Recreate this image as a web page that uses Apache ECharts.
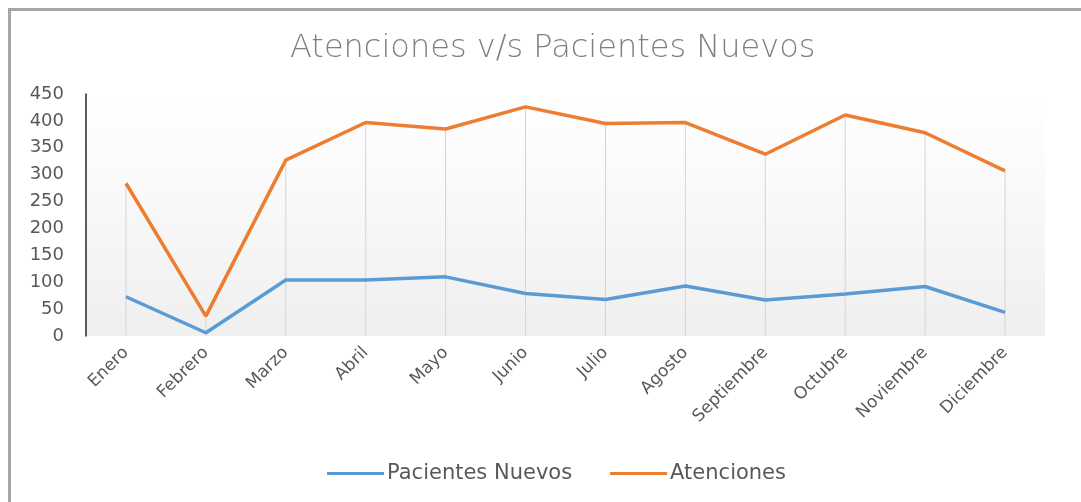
<!DOCTYPE html>
<html>
<head>
<meta charset="utf-8">
<title>Atenciones v/s Pacientes Nuevos</title>
<script src="https://cdn.jsdelivr.net/npm/echarts@6/dist/echarts.min.js"></script>
<style>
  html, body { margin: 0; padding: 0; background: #fff; }
  #chart { width: 1081px; height: 502px; }
</style>
</head>
<body>
<div id="chart"></div>
<script>
// datos
var meses = ['Enero', 'Febrero', 'Marzo', 'Abril', 'Mayo', 'Junio', 'Julio',
  'Agosto', 'Septiembre', 'Octubre', 'Noviembre', 'Diciembre'];
var pacientesNuevos = [73, 6, 104, 104, 110, 79, 68, 93, 67, 78, 92, 44];
var atenciones = [284, 37, 327, 397, 385, 426, 395, 397, 338, 411, 378, 307];
var yTicks = [0, 50, 100, 150, 200, 250, 300, 350, 400, 450];

var colors = ['#5B9BD5', '#ED7D31'];
var textColor = '#595959';
var font = 'DejaVu Sans';

var chartDom = document.getElementById('chart');
var myChart = echarts.init(chartDom);
var option = {
  color: colors,
  animation: false,
  textStyle: { fontFamily: font },
  title: {
    text: 'Atenciones v/s Pacientes Nuevos',
    left: 285,
    top: 28,
    textStyle: {
      color: '#7f7f7f',
      fontFamily: font,
      fontWeight: 'lighter',
      fontSize: 32
    }
  },
  // marco gris (arriba e izquierda)
  graphic: [{
    type: 'rect',
    left: 8,
    top: 8,
    shape: { width: 1100, height: 520 },
    style: { fill: 'transparent', stroke: '#a6a6a6', lineWidth: 3 },
    silent: true
  }],
  legend: {
    bottom: 13,
    left: 322,
    data: ['Pacientes Nuevos', 'Atenciones'],
    icon: 'rect',
    itemWidth: 57,
    itemHeight: 3,
    itemGap: 38,
    textStyle: { color: textColor, fontSize: 21, fontFamily: font, padding: [0, 0, 0, -2] }
  },
  grid: {
    left: 86,
    right: 36,
    top: 94,
    bottom: 166,
    show: true,
    borderWidth: 0,
    backgroundColor: {
      type: 'linear', x: 0, y: 0, x2: 0, y2: 1,
      colorStops: [
        { offset: 0, color: '#ffffff' },
        { offset: 0.3, color: '#fbfbfb' },
        { offset: 1, color: '#efefef' }
      ]
    }
  },
  xAxis: {
    type: 'category',
    data: meses,
    boundaryGap: true,
    axisLine: { show: false },
    axisTick: { show: false },
    splitLine: { show: false },
    axisLabel: {
      rotate: 45,
      margin: 14,
      interval: 0,
      color: textColor,
      fontSize: 17,
      fontFamily: font
    }
  },
  yAxis: {
    type: 'value',
    min: yTicks[0],
    max: yTicks[yTicks.length - 1],
    interval: 50,
    axisLine: { show: true, lineStyle: { color: '#262626', width: 1.5 } },
    axisTick: { show: false },
    splitLine: { show: false },
    axisLabel: {
      margin: 22,
      color: textColor,
      fontSize: 18,
      fontFamily: font
    }
  },
  series: [
    {
      // lineas de caida hasta el punto mas alto
      name: 'caida',
      type: 'bar',
      data: atenciones,
      barWidth: 1,
      silent: true,
      z: 1,
      itemStyle: { color: '#d4d4d4' }
    },
    {
      name: 'Pacientes Nuevos',
      type: 'line',
      data: pacientesNuevos,
      showSymbol: false,
      z: 3,
      lineStyle: { width: 3.5, color: colors[0] }
    },
    {
      name: 'Atenciones',
      type: 'line',
      data: atenciones,
      showSymbol: false,
      z: 3,
      lineStyle: { width: 3.5, color: colors[1] }
    }
  ]
};
myChart.setOption(option);
</script>
</body>
</html>
